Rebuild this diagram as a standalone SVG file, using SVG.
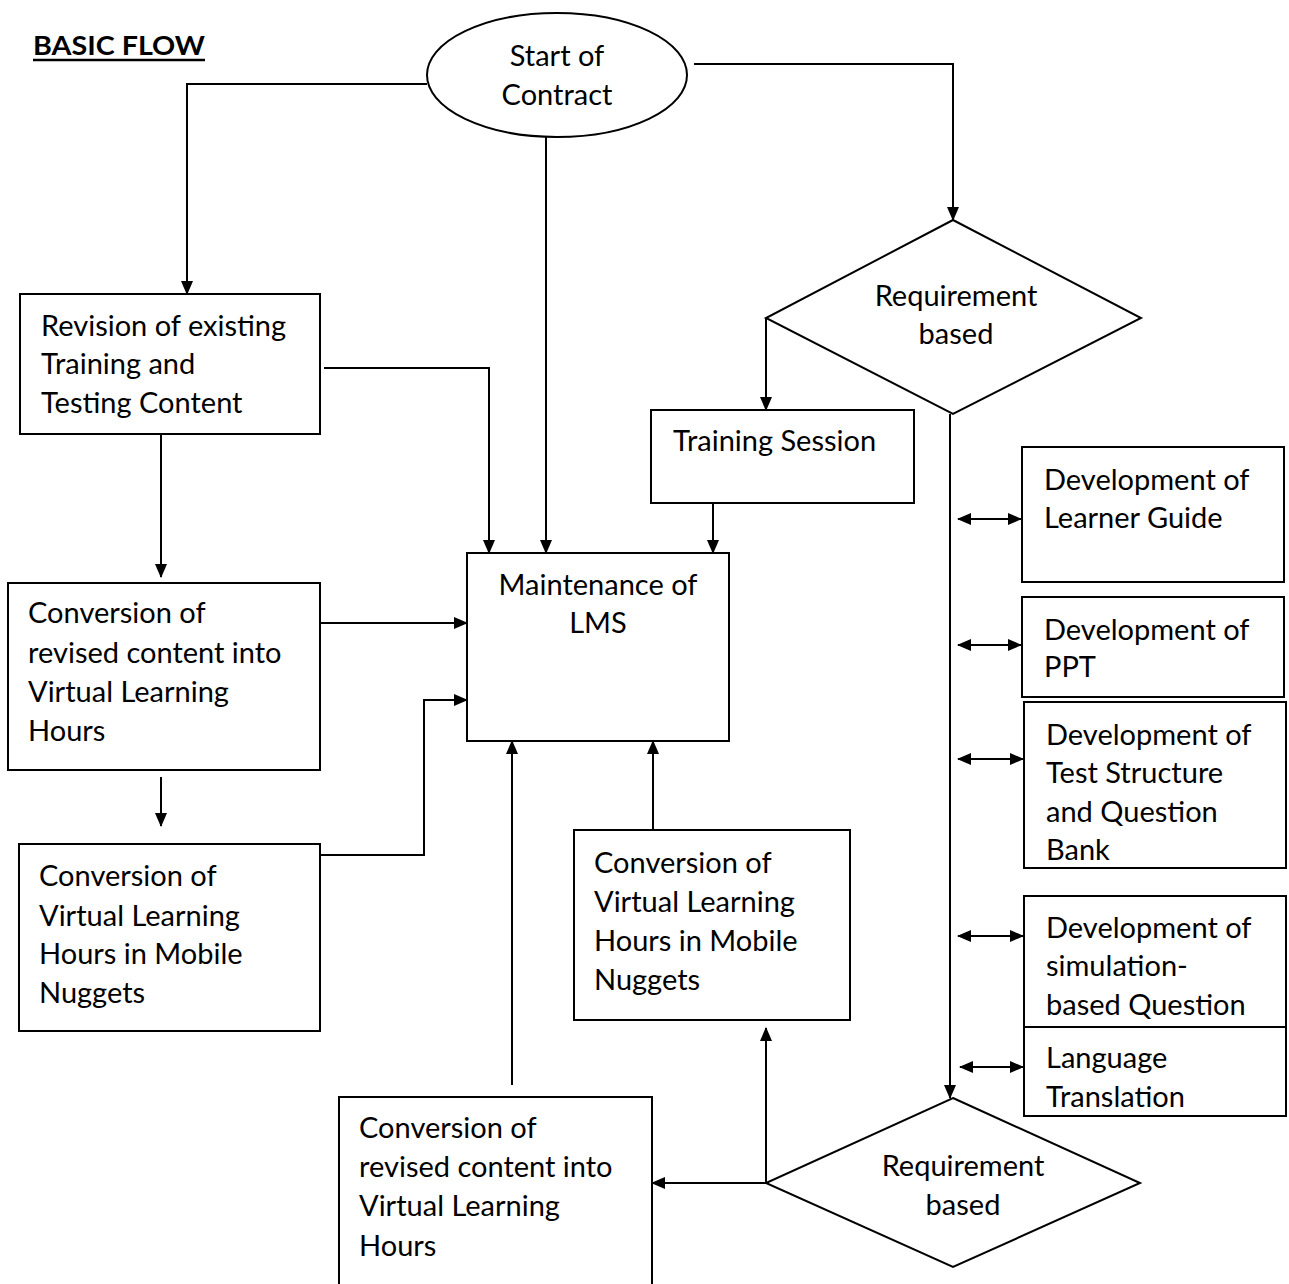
<svg xmlns="http://www.w3.org/2000/svg" width="1289" height="1284" viewBox="0 0 1289 1284">
<defs>
<marker id="ah" markerWidth="14" markerHeight="12" refX="13" refY="6" orient="auto" markerUnits="userSpaceOnUse"><path d="M0,0 L14,6 L0,12 Z" fill="#000"/></marker>
<marker id="as" markerWidth="14" markerHeight="12" refX="1" refY="6" orient="auto" markerUnits="userSpaceOnUse"><path d="M14,0 L0,6 L14,12 Z" fill="#000"/></marker>
<style>
.n{fill:#fff;stroke:#000;stroke-width:2}
.t{font-family:Lato,"Liberation Sans",sans-serif;font-size:29px;fill:#000}
.c{stroke:#000;stroke-width:2;fill:none}
.a{marker-end:url(#ah)}
.d{marker-start:url(#as);marker-end:url(#ah)}
</style>
</defs>
<rect width="1289" height="1284" fill="#fff"/>
<g id="title">
<text x="33" y="55" style="font-family:Lato,'Liberation Sans',sans-serif;font-size:27px;font-weight:bold" fill="#000" textLength="172" lengthAdjust="spacingAndGlyphs">BASIC FLOW</text>
<line x1="33" y1="60" x2="205" y2="60" stroke="#000" stroke-width="2.5"/>
</g>
<g id="connectors">
<path class="c a" d="M427,84 H187 V294"/>
<path class="c a" d="M694,64 H953 V220"/>
<path class="c a" d="M546,137 V553"/>
<path class="c a" d="M766,318 V410"/>
<path class="c a" d="M713,503 V553"/>
<path class="c a" d="M950,414 V1098"/>
<path class="c d" d="M958,519 H1021"/>
<path class="c d" d="M958,645 H1021"/>
<path class="c d" d="M958,759 H1023"/>
<path class="c d" d="M958,936 H1023"/>
<path class="c d" d="M960,1067 H1023"/>
<path class="c a" d="M766,1183 H652"/>
<path class="c a" d="M766,1183 V1028"/>
<path class="c a" d="M512,1085 V741"/>
<path class="c a" d="M653,833 V741"/>
<path class="c a" d="M324,368 H489 V553"/>
<path class="c a" d="M161,434 V577"/>
<path class="c a" d="M320,623 H467"/>
<path class="c a" d="M161,777 V826"/>
<path class="c a" d="M320,855 H424 V700 H467"/>
</g>
<g id="start">
<ellipse class="n" cx="557" cy="75" rx="130" ry="62"/>
<text class="t" x="557" y="66" text-anchor="middle">Start of</text>
<text class="t" x="557" y="105" text-anchor="middle">Contract</text>
</g>
<g id="req1">
<polygon class="n" points="953,220 1141,318 953,414 766,318"/>
<text class="t" x="956" y="306" text-anchor="middle">Requirement</text>
<text class="t" x="956" y="344" text-anchor="middle">based</text>
</g>
<g id="training">
<rect class="n" x="651" y="410" width="263" height="93"/>
<text class="t" x="673" y="451">Training Session</text>
</g>
<g id="lms">
<rect class="n" x="467" y="553" width="262" height="188"/>
<text class="t" x="598" y="595" text-anchor="middle">Maintenance of</text>
<text class="t" x="598" y="633" text-anchor="middle">LMS</text>
</g>
<g id="revision">
<rect class="n" x="20" y="294" width="300" height="140"/>
<text class="t" x="41" y="336">Revision of existing</text>
<text class="t" x="41" y="374">Training and</text>
<text class="t" x="41" y="413">Testing Content</text>
</g>
<g id="conv1">
<rect class="n" x="8" y="583" width="312" height="187"/>
<text class="t" x="28" y="623">Conversion of</text>
<text class="t" x="28" y="663">revised content into</text>
<text class="t" x="28" y="702">Virtual Learning</text>
<text class="t" x="28" y="741">Hours</text>
</g>
<g id="mobile1">
<rect class="n" x="19" y="844" width="301" height="187"/>
<text class="t" x="39" y="886">Conversion of</text>
<text class="t" x="39" y="926">Virtual Learning</text>
<text class="t" x="39" y="964">Hours in Mobile</text>
<text class="t" x="39" y="1003">Nuggets</text>
</g>
<g id="mobile2">
<rect class="n" x="574" y="830" width="276" height="190"/>
<text class="t" x="594" y="873">Conversion of</text>
<text class="t" x="594" y="912">Virtual Learning</text>
<text class="t" x="594" y="951">Hours in Mobile</text>
<text class="t" x="594" y="990">Nuggets</text>
</g>
<g id="conv2">
<rect class="n" x="339" y="1097" width="313" height="200"/>
<text class="t" x="359" y="1138">Conversion of</text>
<text class="t" x="359" y="1177">revised content into</text>
<text class="t" x="359" y="1216">Virtual Learning</text>
<text class="t" x="359" y="1256">Hours</text>
</g>
<g id="req2">
<polygon class="n" points="953,1098 1140,1183 953,1267 766,1183"/>
<text class="t" x="963" y="1176" text-anchor="middle">Requirement</text>
<text class="t" x="963" y="1215" text-anchor="middle">based</text>
</g>
<g id="learner">
<rect class="n" x="1022" y="447" width="262" height="135"/>
<text class="t" x="1044" y="490">Development of</text>
<text class="t" x="1044" y="528">Learner Guide</text>
</g>
<g id="ppt">
<rect class="n" x="1022" y="597" width="262" height="100"/>
<text class="t" x="1044" y="640">Development of</text>
<text class="t" x="1044" y="677">PPT</text>
</g>
<g id="test">
<rect class="n" x="1024" y="702" width="262" height="166"/>
<text class="t" x="1046" y="745">Development of</text>
<text class="t" x="1046" y="783">Test Structure</text>
<text class="t" x="1046" y="822">and Question</text>
<text class="t" x="1046" y="860">Bank</text>
</g>
<g id="simulation">
<rect class="n" x="1024" y="896" width="262" height="131"/>
<text class="t" x="1046" y="938">Development of</text>
<text class="t" x="1046" y="976">simulation-</text>
<text class="t" x="1046" y="1015">based Question</text>
</g>
<g id="translation">
<rect class="n" x="1024" y="1027" width="262" height="89"/>
<text class="t" x="1046" y="1068">Language</text>
<text class="t" x="1046" y="1107">Translation</text>
</g>
</svg>
